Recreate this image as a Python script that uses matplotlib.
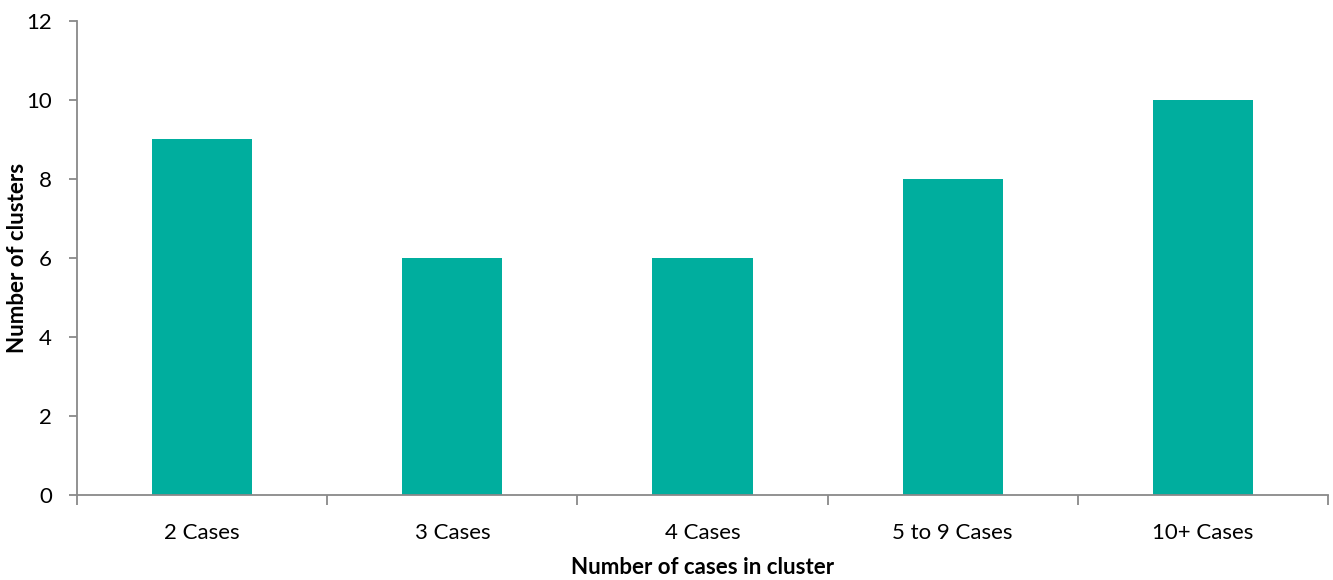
import numpy as np
import matplotlib.pyplot as plt

categories = ["2 Cases", "3 Cases", "4 Cases", "5 to 9 Cases", "10+ Cases"]
clusters = [9, 6, 6, 8, 10]

plt.rcParams['font.family'] = ['Lato', 'DejaVu Sans']

fig = plt.figure(figsize=(13.33, 5.8), dpi=100)
ax = fig.add_axes([0.0578, 0.1466, 0.9384, 0.8172])

x = np.arange(len(categories))
ax.bar(x, clusters, width=0.4, color="#00AE9E", zorder=2)

ax.set_xlim(-0.5, len(categories) - 0.5)
ax.set_ylim(0, 12)
ax.set_yticks(range(0, 13, 2))

# category labels in the middle, tick marks between categories
ax.set_xticks(x)
ax.set_xticklabels(categories, fontsize=16)
ax.set_xticks(np.arange(-0.5, len(categories)), minor=True)
ax.tick_params(axis="x", which="major", length=0, pad=20)
ax.tick_params(axis="x", which="minor", length=7, width=1.3, color="#898989", direction="out")
ax.tick_params(axis="y", length=6, width=1.3, color="#898989", labelsize=16, pad=12)

for side in ["top", "right"]:
    ax.spines[side].set_visible(False)
for side in ["left", "bottom"]:
    ax.spines[side].set_color("#898989")
    ax.spines[side].set_linewidth(1.3)

# axis titles placed in figure coordinates so they stay inside the canvas
fig.text(0.527, 0.021, "Number of cases in cluster", fontsize=16, fontweight="bold",
         ha="center", va="center")
fig.text(0.013, 0.555, "Number of clusters", fontsize=16, fontweight="bold",
         ha="center", va="center", rotation=90)

fig.savefig("out.png", dpi=100)
